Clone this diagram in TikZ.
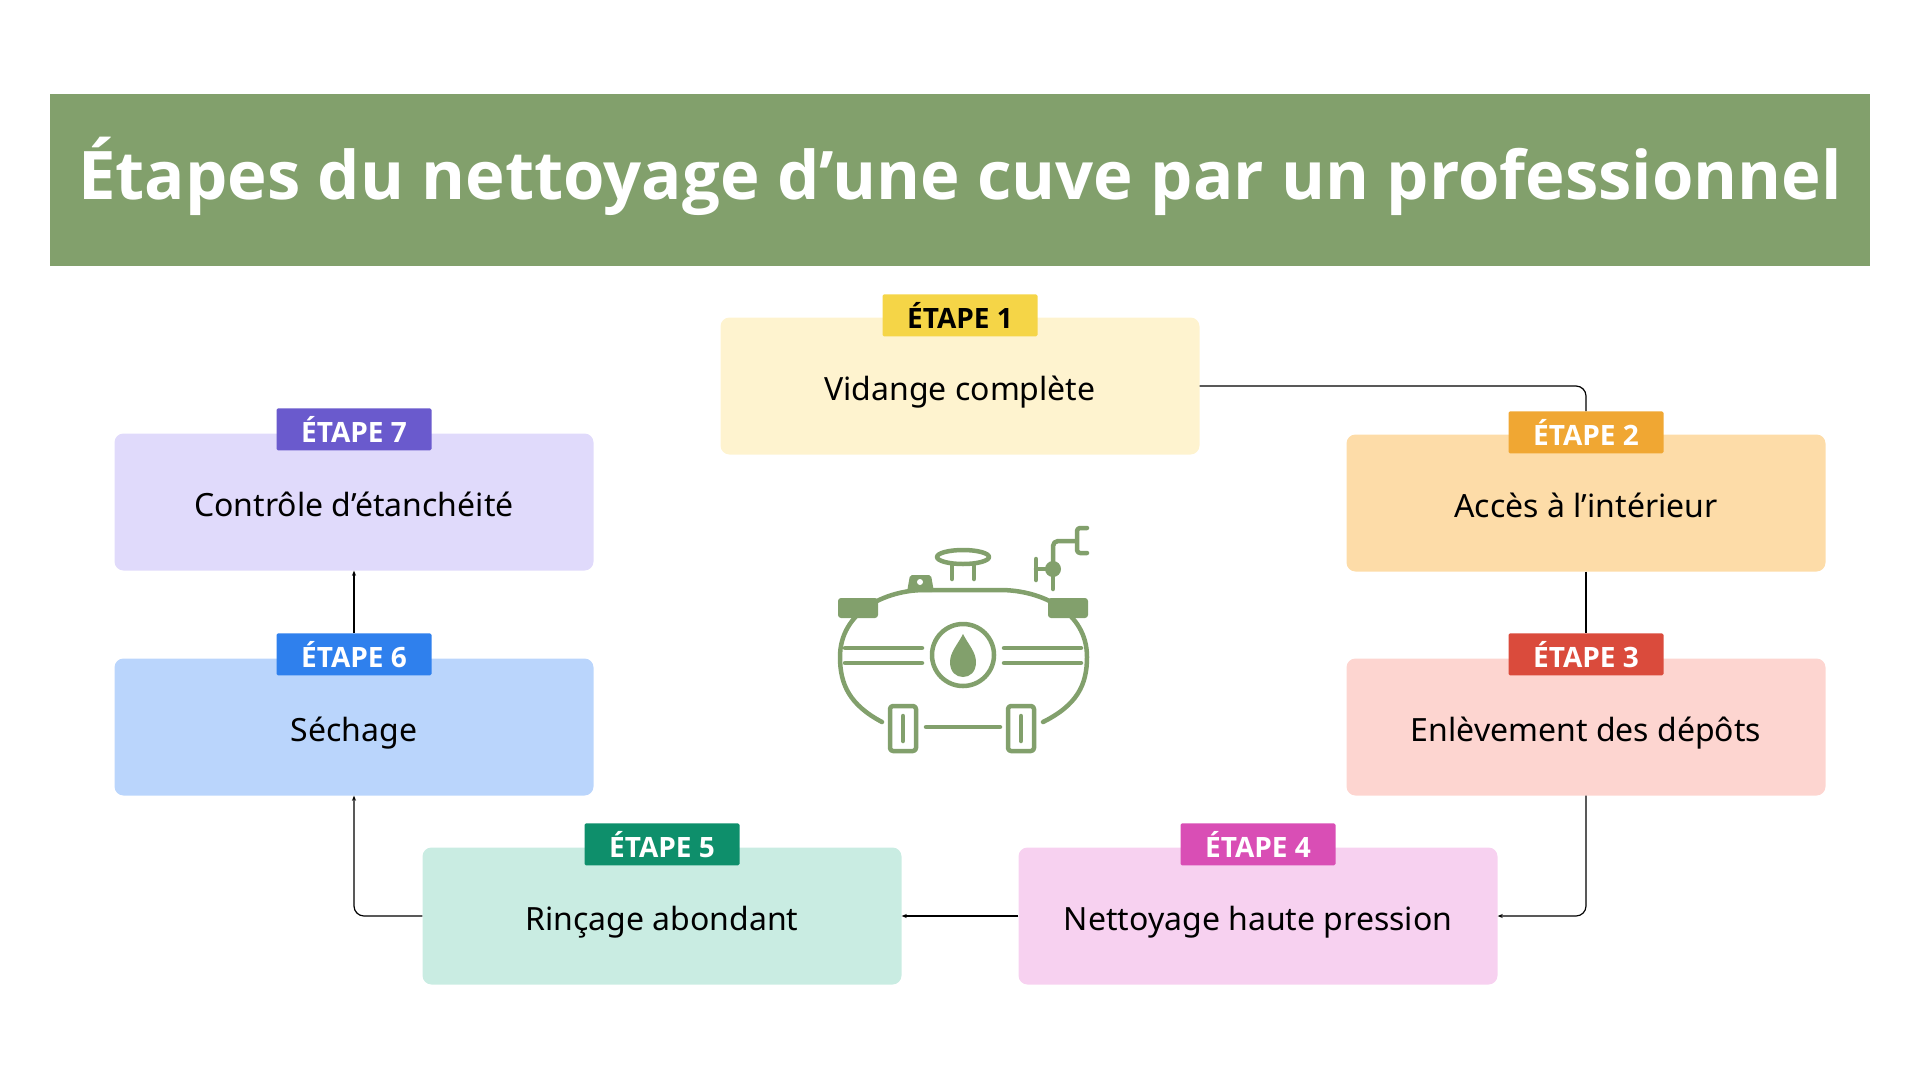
\documentclass[tikz,border=0pt]{standalone}
\usepackage{fontspec}
\setmainfont{Noto Sans}
\newfontfamily\titlefont{Open Sans}
\usetikzlibrary{arrows.meta}
\definecolor{tankgreen}{HTML}{82A06C}
\definecolor{fillA}{HTML}{FEF3CF}\definecolor{tagA}{HTML}{F5D547}
\definecolor{fillB}{HTML}{FDDCA8}\definecolor{tagB}{HTML}{F0A733}
\definecolor{fillC}{HTML}{FDD5D0}\definecolor{tagC}{HTML}{DA4B3C}
\definecolor{fillD}{HTML}{F7D1F0}\definecolor{tagD}{HTML}{D94EB5}
\definecolor{fillE}{HTML}{C9ECE2}\definecolor{tagE}{HTML}{0E8F6B}
\definecolor{fillF}{HTML}{BAD5FC}\definecolor{tagF}{HTML}{2F80ED}
\definecolor{fillG}{HTML}{E0DAFB}\definecolor{tagG}{HTML}{6A5ACD}
\tikzset{
  stepbox/.style={rounded corners=9pt,minimum width=479pt,minimum height=137pt,
    font=\fontsize{32}{36}\selectfont,inner sep=0pt,text depth=0pt,text height=28pt},
  tag/.style={minimum width=155pt,minimum height=42pt,inner sep=0pt,
    font=\titlefont\fontsize{28}{32}\selectfont\bfseries,text=white,rounded corners=1.5pt},
  link/.style={line width=1.2pt,rounded corners=10pt},
  tank/.style={draw=tankgreen,line width=4.5pt,line cap=round,line join=round}
}
\begin{document}
\begin{tikzpicture}[x=1pt,y=-1pt,>={Stealth[length=5pt,width=4pt]}]
        \useasboundingbox (0,0) rectangle (1920,1080);
        % title bar
        \fill[tankgreen] (50,94) rectangle (1870,266);
        \node[text=white,font=\titlefont\fontsize{67}{78}\selectfont\bfseries] (title) at (960,176)
             {Étapes du nettoyage d’une cuve par un professionnel};

        % the steps
        \node[stepbox,fill=fillA] (s1) at (960,386) {Vidange complète};
        \node[stepbox,fill=fillB] (s2) at (1586,503) {Accès à l’intérieur};
        \node[stepbox,fill=fillC] (s3) at (1586,727) {Enlèvement des dépôts};
        \node[stepbox,fill=fillD] (s4) at (1258,916) {Nettoyage haute pression};
        \node[stepbox,fill=fillE] (s5) at (662,916) {Rinçage abondant};
        \node[stepbox,fill=fillF] (s6) at (354,727) {Séchage};
        \node[stepbox,fill=fillG] (s7) at (354,502) {Contrôle d’étanchéité};

        % the step tags
        \node[tag,fill=tagA,text=black] (t1) at ([yshift=2pt]s1.north) {ÉTAPE 1};
        \node[tag,fill=tagB] (t2) at ([yshift=2pt]s2.north) {ÉTAPE 2};
        \node[tag,fill=tagC] (t3) at ([yshift=4pt]s3.north) {ÉTAPE 3};
        \node[tag,fill=tagD] (t4) at ([yshift=3pt]s4.north) {ÉTAPE 4};
        \node[tag,fill=tagE] (t5) at ([yshift=3pt]s5.north) {ÉTAPE 5};
        \node[tag,fill=tagF] (t6) at ([yshift=4pt]s6.north) {ÉTAPE 6};
        \node[tag,fill=tagG] (t7) at ([yshift=4pt]s7.north) {ÉTAPE 7};

        % connectors
        \draw[link] (s1.east) -| (t2.north);
        \draw[link] (s2.south) -- (t3.north);
        \draw[link,->] (s3.south) |- (s4.east);
        \draw[link,->] (s4.west) -- (s5.east);
        \draw[link,->] (s5.west) -| (s6.south);
        \draw[link,->] (t6.north) -- (s7.south);

        % the tank
        \draw[tank] (882,722) .. controls (850,705) and (840,685) .. (840,657)
              .. controls (840,612) and (885,590) .. (925,590) -- (1000,590)
              .. controls (1042,590) and (1087,612) .. (1087,657)
              .. controls (1087,685) and (1077,705) .. (1043,722);
        \fill[tankgreen,rounded corners=3pt] (838,598) rectangle (878,618);
        \fill[tankgreen,rounded corners=3pt] (1048,598) rectangle (1088,618);
        \foreach \y in {648,663} {
                \draw[tank] (845,\y) -- (922,\y);
                \draw[tank] (1004,\y) -- (1081,\y);
        }
        \draw[tank] (963,655) circle (31pt);
        \fill[tankgreen] (963,634) .. controls (958,644) and (950,652) .. (950,662)
              .. controls (950,672) and (956,677) .. (963,677)
              .. controls (970,677) and (976,672) .. (976,662)
              .. controls (976,652) and (968,644) .. (963,634);
        \foreach \x in {890,1008} {
                \draw[tank,rounded corners=3pt] (\x,706) rectangle (\x+26,751);
                \draw[tank] (\x+13,716) -- (\x+13,741);
        }
        \draw[tank] (926,727) -- (1000,727);
        \draw[tank] (963,557) ellipse [x radius=26pt,y radius=7pt];
        \draw[tank] (952,564) -- (952,579) (974,564) -- (974,579);
        \fill[tankgreen,rounded corners=2pt] (907,592) -- (910,575) -- (931,575) -- (934,592) -- cycle;
        \fill[white] (920,582) circle (3pt);
        \draw[tank] (1036,559) -- (1036,580) (1036,569) -- (1053,569) (1053,569) -- (1053,589);
        \draw[tank,rounded corners=5pt] (1053,569) -- (1053,541) -- (1075,541);
        \draw[tank,rounded corners=3pt] (1087,528) -- (1077,528) -- (1077,553) -- (1087,553);
        \fill[tankgreen] (1053,569) circle (8pt);
\end{tikzpicture}
\end{document}
